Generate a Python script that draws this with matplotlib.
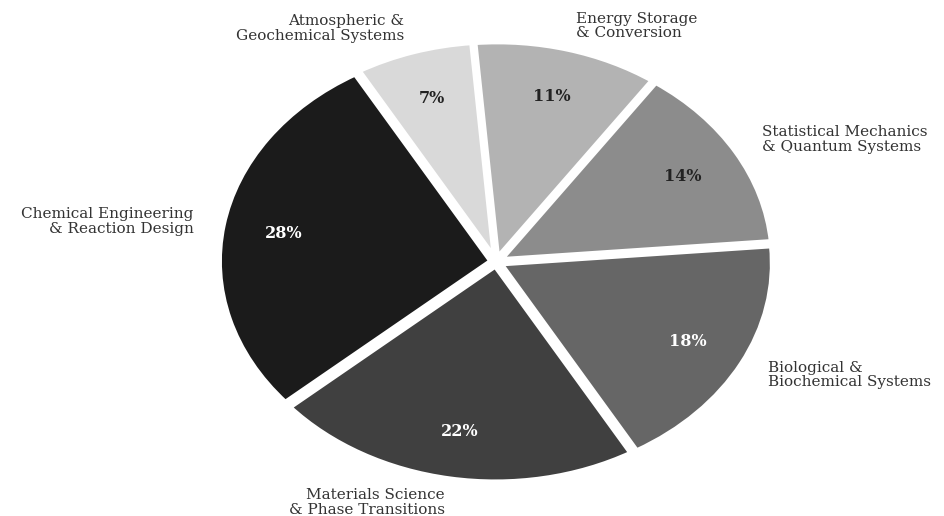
import matplotlib.pyplot as plt

# research areas and their share of the portfolio (percent)
areas = [
    "Chemical Engineering\n& Reaction Design",
    "Materials Science\n& Phase Transitions",
    "Biological &\nBiochemical Systems",
    "Statistical Mechanics\n& Quantum Systems",
    "Energy Storage\n& Conversion",
    "Atmospheric &\nGeochemical Systems",
]
shares = [28, 22, 18, 14, 11, 7]
greys = ["#1b1b1b", "#404040", "#666666", "#8c8c8c", "#b3b3b3", "#d9d9d9"]
pct_colours = ["white", "white", "white", "#222222", "#222222", "#222222"]

plt.rcParams["font.family"] = "DejaVu Serif"

fig = plt.figure(figsize=(9.45, 5.16), dpi=100)
ax = fig.add_axes([0.165, -0.032, 0.72, 1.049])

wedges, texts, autotexts = ax.pie(
    shares,
    labels=areas,
    colors=greys,
    startangle=120,
    explode=[0.018] * len(shares),
    autopct="%d%%",
    pctdistance=0.775,
    labeldistance=1.11,
    wedgeprops=dict(edgecolor="white", linewidth=4),
    textprops=dict(fontsize=11, color="#333333"),
)

for txt in texts:
    txt.set_linespacing(1.08)

for txt, col in zip(autotexts, pct_colours):
    txt.set_color(col)
    txt.set_fontweight("bold")
    txt.set_fontsize(11.5)

# let the pie stretch to the axes box instead of staying circular
ax.set_aspect("auto")
ax.set_xlim(-1.25, 1.25)
ax.set_ylim(-1.25, 1.25)

fig.savefig("out.png", dpi=100, facecolor="white")
